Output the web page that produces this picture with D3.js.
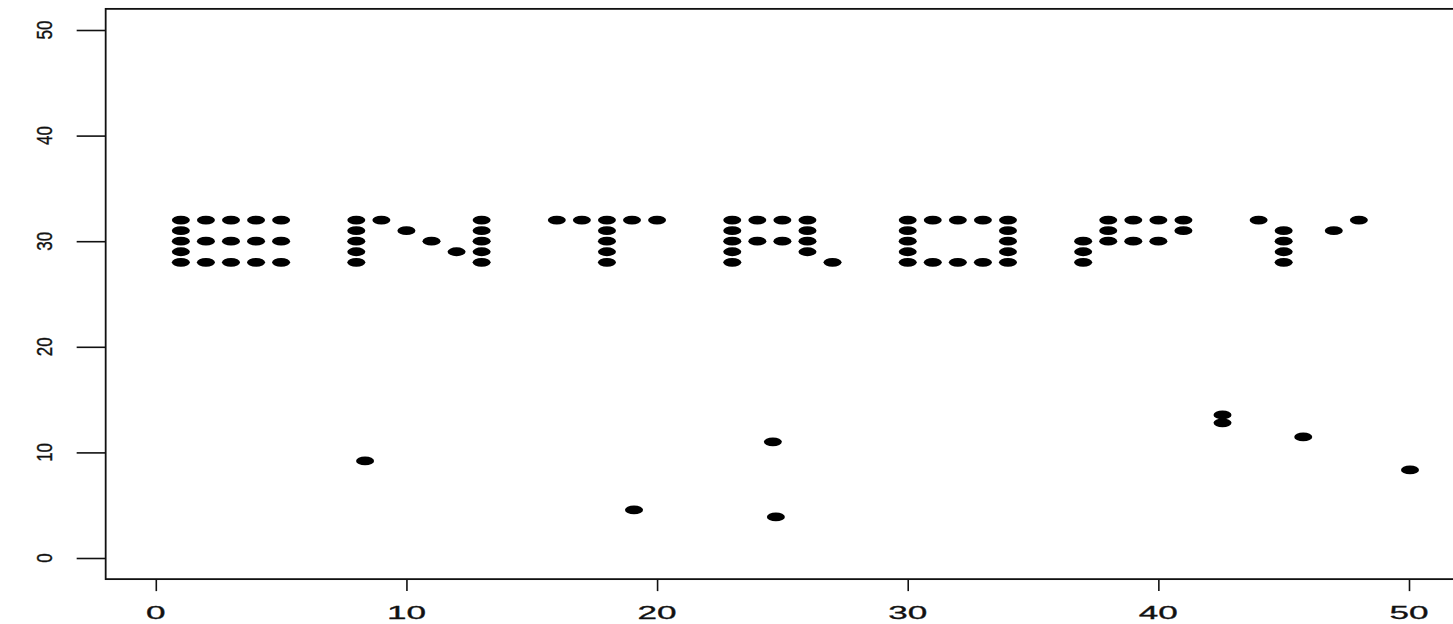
<!DOCTYPE html>
<html>
<head>
<meta charset="utf-8">
<script src="https://cdn.jsdelivr.net/npm/d3@7"></script>
<style>
  html, body { margin: 0; padding: 0; background: #fff; }
  svg { display: block; }
  .lbl { font-family: "Liberation Sans", Arial, sans-serif; fill: #111; stroke: #111; stroke-width: 0.3; }
</style>
</head>
<body>
<svg id="chart"></svg>
<script>
// letters of the word, as [x, y] dots
var letterE = [[1,28],[1,29],[1,30],[1,31],[1,32],[2,28],[2,30],[2,32],[3,28],[3,30],[3,32],[4,28],[4,30],[4,32],[5,28],[5,30],[5,32]];
var letterN = [[8,28],[8,29],[8,30],[8,31],[8,32],[9,32],[10,31],[11,30],[12,29],[13,28],[13,29],[13,30],[13,31],[13,32]];
var letterT = [[16,32],[17,32],[18,32],[19,32],[20,32],[18,28],[18,29],[18,30],[18,31]];
var letterR = [[23,28],[23,29],[23,30],[23,31],[23,32],[24,32],[25,32],[26,32],[24,30],[25,30],[26,31],[26,30],[26,29],[27,28]];
var letterO = [[30,28],[30,29],[30,30],[30,31],[30,32],[34,28],[34,29],[34,30],[34,31],[34,32],[31,32],[32,32],[33,32],[31,28],[32,28],[33,28]];
var letterP = [[37,28],[37,29],[37,30],[38,30],[38,31],[38,32],[39,32],[39,30],[40,32],[40,30],[41,32],[41,31]];
var letterY = [[44,32],[45,31],[45,30],[45,29],[45,28],[47,31],[48,32]];

// scattered points
var noiseX = [8.35, 19.08, 24.62, 24.74, 42.56, 42.56, 45.78, 50.04];
var noiseY = [9.19, 4.55, 11.0, 3.89, 13.55, 12.8, 11.47, 8.34];

var tickValues = [0, 10, 20, 30, 40, 50];

var width = 1453, height = 624;

var svg = d3.select("#chart")
    .attr("width", width)
    .attr("height", height);

svg.append("rect")
    .attr("width", width)
    .attr("height", height)
    .attr("fill", "#fff");

var x = d3.scaleLinear().domain([0, 50]).range([155.8, 1409]);
var y = d3.scaleLinear().domain([0, 50]).range([558, 30]);

var points = [].concat(letterE, letterN, letterT, letterR, letterO, letterP, letterY)
    .map(function(p) { return { x: p[0], y: p[1] }; });
noiseX.forEach(function(v, i) {
    points.push({ x: v, y: noiseY[i] });
});

// plot box
svg.append("rect")
    .attr("x", x(-2))
    .attr("y", y(52))
    .attr("width", x(52) - x(-2))
    .attr("height", y(-2) - y(52))
    .attr("fill", "none")
    .attr("stroke", "#111")
    .attr("stroke-width", 1.8);

// axes (ticks only, labels drawn below)
var xAxis = svg.append("g")
    .attr("transform", "translate(0," + y(-2) + ")")
    .call(d3.axisBottom(x).tickValues(tickValues).tickSize(12).tickFormat(""));
var yAxis = svg.append("g")
    .attr("transform", "translate(" + x(-2) + ",0)")
    .call(d3.axisLeft(y).tickValues(tickValues).tickSize(29).tickFormat(""));
[xAxis, yAxis].forEach(function(g) {
    g.select(".domain").remove();
    g.selectAll("line").attr("stroke", "#111").attr("stroke-width", 1.6);
});

svg.append("g")
    .selectAll("text")
    .data(tickValues)
    .enter().append("text")
    .attr("class", "lbl")
    .attr("text-anchor", "middle")
    .attr("font-size", 18)
    .attr("transform", function(d) {
        return "translate(" + x(d) + ",619) scale(1.95,1)";
    })
    .text(function(d) { return d; });

svg.append("g")
    .selectAll("text")
    .data(tickValues)
    .enter().append("text")
    .attr("class", "lbl")
    .attr("text-anchor", "middle")
    .attr("font-size", 17)
    .attr("transform", function(d) {
        return "translate(52," + y(d) + ") scale(1.3,1) rotate(-90)";
    })
    .text(function(d) { return d; });

// dots
svg.append("g")
    .selectAll("ellipse")
    .data(points)
    .enter().append("ellipse")
    .attr("cx", function(d) { return x(d.x); })
    .attr("cy", function(d) { return y(d.y); })
    .attr("rx", 9)
    .attr("ry", 4.4)
    .attr("fill", "#000");
</script>
</body>
</html>
